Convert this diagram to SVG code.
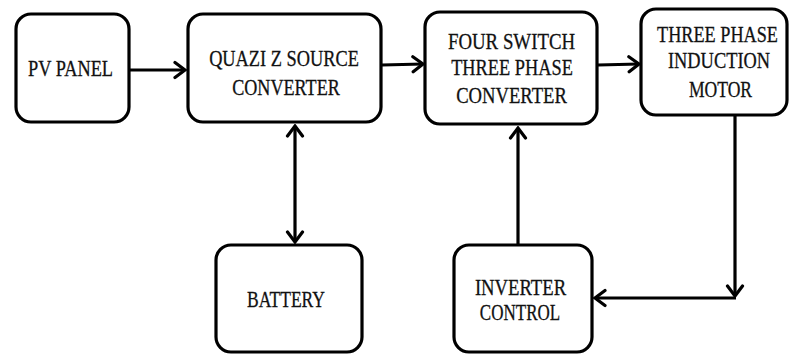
<svg xmlns="http://www.w3.org/2000/svg" width="789" height="356" viewBox="0 0 789 356">
<style>
.box{fill:#fff;stroke:#000;stroke-width:3.2}
.t{font-family:"Liberation Serif","Times New Roman",serif;font-size:23.5px;fill:#111;stroke:#111;stroke-width:0.3;text-anchor:middle}
.c{fill:none;stroke:#000;stroke-width:3.2}
</style>
<defs>
<marker id="ah" viewBox="-14 -10 16 20" markerWidth="16" markerHeight="20" refX="0" refY="0" orient="auto-start-reverse" markerUnits="userSpaceOnUse">
<path d="M-10,-7.5 L0,0 L-10,7.5" fill="none" stroke="#000" stroke-width="3.2" stroke-linecap="round" stroke-linejoin="miter"/>
</marker>
</defs>
<rect width="789" height="356" fill="#fff"/>
<g id="connectors">
<line class="c" x1="130" y1="70" x2="185" y2="70" marker-end="url(#ah)"/>
<line class="c" x1="382" y1="65" x2="423" y2="64" marker-end="url(#ah)"/>
<line class="c" x1="598" y1="65" x2="639" y2="64" marker-end="url(#ah)"/>
<line class="c" x1="295" y1="126" x2="295" y2="242" marker-start="url(#ah)" marker-end="url(#ah)"/>
<line class="c" x1="518" y1="245" x2="518" y2="128" marker-end="url(#ah)"/>
<line class="c" x1="735" y1="115" x2="735" y2="296" marker-end="url(#ah)"/>
<line class="c" x1="736" y1="298" x2="595" y2="298" marker-end="url(#ah)"/>
</g>
<g id="pv-panel">
<rect class="box" x="16" y="14" width="113" height="108" rx="15"/>
<text class="t" transform="matrix(0.78,0,0,1,70.5,0)" x="0" y="76" textLength="109" lengthAdjust="spacingAndGlyphs">PV PANEL</text>
</g>
<g id="qzs-converter">
<rect class="box" x="188" y="14" width="193" height="108" rx="15"/>
<text class="t" transform="matrix(0.78,0,0,1,284,0)" x="0" y="66" textLength="192" lengthAdjust="spacingAndGlyphs">QUAZI Z SOURCE</text>
<text class="t" transform="matrix(0.78,0,0,1,286,0)" x="0" y="95" textLength="138" lengthAdjust="spacingAndGlyphs">CONVERTER</text>
</g>
<g id="four-switch">
<rect class="box" x="425" y="12" width="172" height="112" rx="15"/>
<text class="t" transform="matrix(0.78,0,0,1,511.5,0)" x="0" y="49" textLength="163" lengthAdjust="spacingAndGlyphs">FOUR SWITCH</text>
<text class="t" transform="matrix(0.78,0,0,1,512,0)" x="0" y="75" textLength="156" lengthAdjust="spacingAndGlyphs">THREE PHASE</text>
<text class="t" transform="matrix(0.78,0,0,1,511.5,0)" x="0" y="103" textLength="142" lengthAdjust="spacingAndGlyphs">CONVERTER</text>
</g>
<g id="induction-motor">
<rect class="box" x="641" y="9" width="146" height="106" rx="15"/>
<text class="t" transform="matrix(0.78,0,0,1,717.5,0)" x="0" y="42" textLength="155" lengthAdjust="spacingAndGlyphs">THREE PHASE</text>
<text class="t" transform="matrix(0.78,0,0,1,719,0)" x="0" y="68" textLength="131" lengthAdjust="spacingAndGlyphs">INDUCTION</text>
<text class="t" transform="matrix(0.78,0,0,1,720.5,0)" x="0" y="97" textLength="81" lengthAdjust="spacingAndGlyphs">MOTOR</text>
</g>
<g id="battery">
<rect class="box" x="216" y="245" width="146" height="107" rx="15"/>
<text class="t" transform="matrix(0.78,0,0,1,286,0)" x="0" y="307" textLength="100" lengthAdjust="spacingAndGlyphs">BATTERY</text>
</g>
<g id="inverter-control">
<rect class="box" x="454" y="245" width="138" height="107" rx="15"/>
<text class="t" transform="matrix(0.78,0,0,1,520.5,0)" x="0" y="295" textLength="117" lengthAdjust="spacingAndGlyphs">INVERTER</text>
<text class="t" transform="matrix(0.78,0,0,1,520,0)" x="0" y="320" textLength="103" lengthAdjust="spacingAndGlyphs">CONTROL</text>
</g>
</svg>
